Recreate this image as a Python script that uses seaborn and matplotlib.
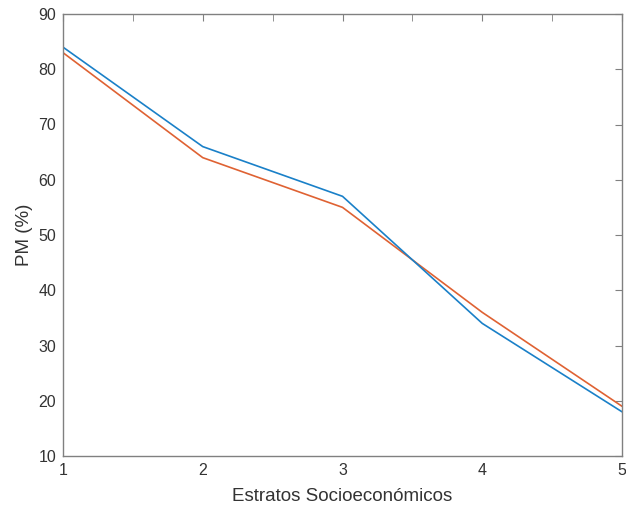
import matplotlib
matplotlib.use("Agg")
import matplotlib.pyplot as plt
import seaborn as sns
import pandas as pd
from matplotlib.ticker import MultipleLocator

estratos = [1, 2, 3, 4, 5]
serie_a = [84, 66, 57, 34, 18]
serie_b = [83, 64, 55, 36, 19]

sns.set_style("white")
plt.rcParams['font.family'] = ['Liberation Sans', 'DejaVu Sans']

df = pd.DataFrame({
    "x": estratos * 2,
    "y": serie_a + serie_b,
    "s": ["a"] * len(estratos) + ["b"] * len(estratos),
})

fig = plt.figure(figsize=(6.26, 5.08), dpi=100)
ax = fig.add_axes([63/626, 52/508, (622-63)/626, (456-14)/508])
sns.lineplot(data=df, x="x", y="y", hue="s", palette={"a": "#1a80c8", "b": "#df6233"},
             ax=ax, legend=False, linewidth=1.2, hue_order=["b", "a"])

ax.set_xlim(1, 5)
ax.set_ylim(10, 90)
ax.xaxis.set_major_locator(MultipleLocator(1))
ax.xaxis.set_minor_locator(MultipleLocator(0.5))
ax.yaxis.set_major_locator(MultipleLocator(10))
ax.tick_params(which="both", direction="in", top=True, right=True, colors="#808080",
               labelcolor="#333333", labelsize=11.5)
ax.tick_params(which="major", length=5, pad=5)
ax.tick_params(which="minor", length=5)
for sp in ax.spines.values():
    sp.set_color("#808080")
    sp.set_linewidth(1.0)
ax.set_xlabel("Estratos Socioeconómicos", fontsize=13.5, color="#333333", labelpad=7)
ax.set_ylabel("PM (%)", fontsize=13.5, color="#333333", labelpad=4)

fig.savefig("out.png", dpi=100)
